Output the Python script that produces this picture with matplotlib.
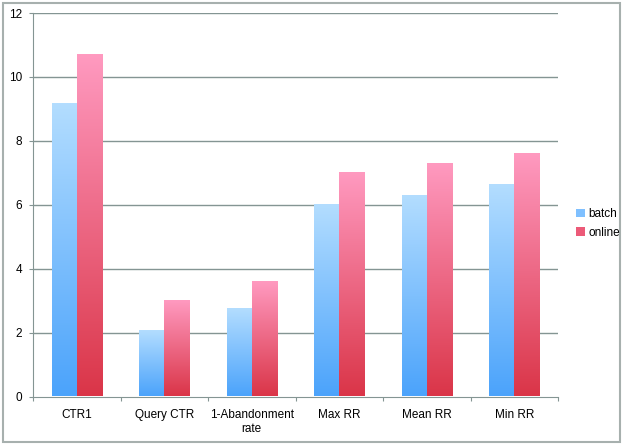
import matplotlib
matplotlib.use("Agg")
import matplotlib.pyplot as plt
import numpy as np
from matplotlib.colors import LinearSegmentedColormap
from matplotlib.patches import Rectangle, Patch

plt.rcParams["font.family"] = ["Liberation Sans", "DejaVu Sans"]

# values
categories = ["CTR1", "Query CTR", "1-Abandonment\nrate", "Max RR", "Mean RR", "Min RR"]
batch = [9.16, 2.06, 2.74, 5.98, 6.27, 6.62]
online = [10.7, 3.0, 3.58, 6.98, 7.28, 7.58]
yticks = [0, 2, 4, 6, 8, 10, 12]

# gradients: light at the top, deep at the bottom
blue_cmap = LinearSegmentedColormap.from_list("b", ["#4ba3fb", "#b3ddff"])
pink_cmap = LinearSegmentedColormap.from_list("p", ["#da3548", "#ff9ac0"])

fig = plt.figure(figsize=(6.23, 4.45), dpi=100)
ax = fig.add_axes([33 / 623, 1 - 396.5 / 445, (558 - 33) / 623, (396.5 - 13) / 445])

x = np.arange(len(categories))
w = 0.286
grad = np.linspace(0, 1, 256).reshape(-1, 1)

for gl in yticks[1:]:
    ax.axhline(gl, color="#849593", lw=1.0, zorder=1)

for i in x:
    ax.imshow(grad, extent=[i - w, i, 0, batch[i]], origin="lower",
              aspect="auto", cmap=blue_cmap, zorder=2)
    ax.imshow(grad, extent=[i, i + w, 0, online[i]], origin="lower",
              aspect="auto", cmap=pink_cmap, zorder=2)

ax.set_xlim(-0.5, len(categories) - 0.5)
ax.set_ylim(0, 12)
ax.set_yticks(yticks)
ax.set_xticks(np.arange(-0.5, len(categories)), minor=False)
ax.set_xticklabels([])
ax.set_xticks(x, minor=True)
ax.set_xticklabels(categories, minor=True, fontsize=8.5)
ax.tick_params(axis="x", which="minor", length=0, pad=9)
ax.tick_params(axis="x", which="major", length=3, color="#849593", direction="out")
ax.tick_params(axis="y", length=3, color="#849593", labelsize=8.5, pad=5)

for s in ["top", "right"]:
    ax.spines[s].set_visible(False)
for s in ["left", "bottom"]:
    ax.spines[s].set_color("#849593")
    ax.spines[s].set_zorder(3)

handles = [Patch(facecolor="#7fc0ff", edgecolor="none", label="batch"),
           Patch(facecolor="#ec5a78", edgecolor="none", label="online")]
fig.legend(handles=handles, loc="center left", bbox_to_anchor=(0.908, 0.498),
           frameon=False, fontsize=8.5, handlelength=0.7, handleheight=0.7,
           handletextpad=0.3, labelspacing=0.55)

fig.patches.append(Rectangle((3 / 623, 3 / 445), 617 / 623, 439 / 445,
                             transform=fig.transFigure, fill=False,
                             edgecolor="#a7b0ae", lw=1.5))

fig.savefig("out.png", dpi=100)
